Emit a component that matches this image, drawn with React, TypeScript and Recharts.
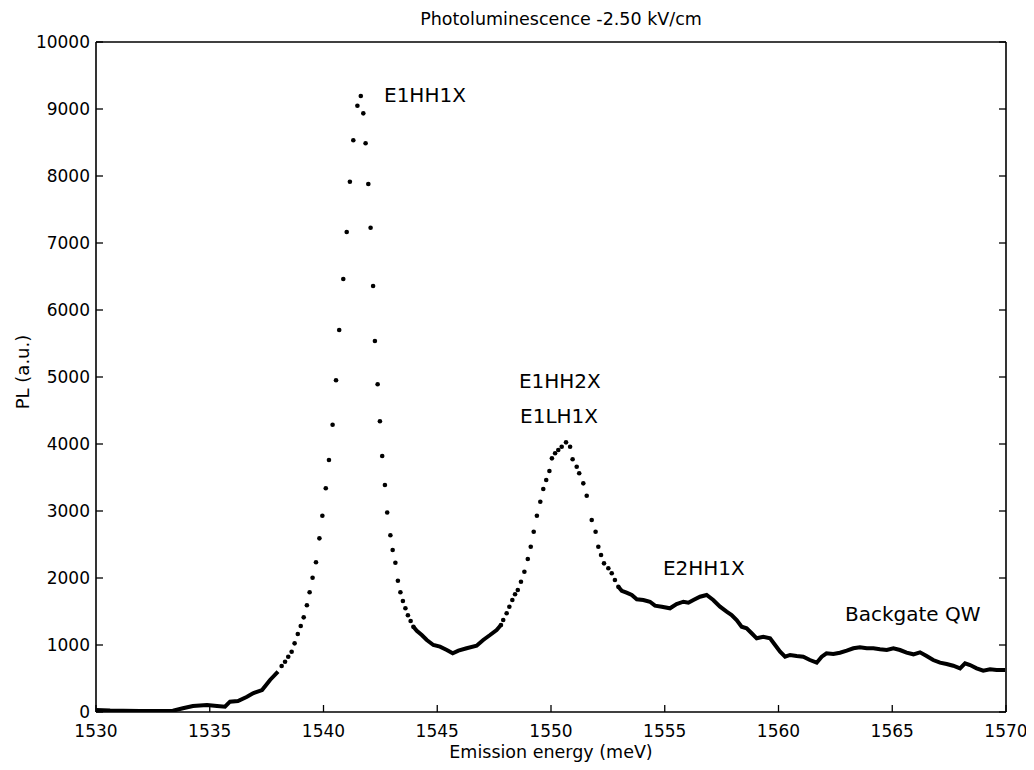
import React from 'react';
import { ComposedChart, Line, Scatter, XAxis, YAxis, ReferenceDot } from 'recharts';

const FONT = '"DejaVu Sans", Verdana, sans-serif';

const xTicks = [1530, 1535, 1540, 1545, 1550, 1555, 1560, 1565, 1570];
const yTicks = [0, 1000, 2000, 3000, 4000, 5000, 6000, 7000, 8000, 9000, 10000];

// densely sampled (continuous looking) stretches of the spectrum
const lowEnergy = [1530.0, 1530.62, 1531.19, 1531.93, 1532.68, 1533.38, 1533.82, 1534.26, 1534.88, 1535.32, 1535.67, 1535.89, 1536.24, 1536.64, 1536.9, 1537.3, 1537.65, 1538.0];
const lowPL = [30, 22, 19, 15, 15, 19, 55, 90, 104, 90, 79, 154, 164, 228, 279, 328, 478, 601];

const valleyEnergy = [1543.95, 1544.1, 1544.32, 1544.54, 1544.83, 1545.12, 1545.42, 1545.68, 1545.93, 1546.29, 1546.73, 1547.02, 1547.32, 1547.61, 1547.8];
const valleyPL = [1273, 1213, 1149, 1075, 1000, 975, 925, 876, 915, 951, 990, 1075, 1149, 1224, 1298];

const tailEnergy = [1552.96, 1553.11, 1553.32, 1553.55, 1553.77, 1554.06, 1554.35, 1554.57, 1554.87, 1555.23, 1555.52, 1555.82, 1556.04, 1556.26, 1556.55, 1556.84, 1557.13, 1557.43, 1557.72, 1557.94, 1558.16, 1558.38, 1558.6, 1558.82, 1559.04, 1559.33, 1559.63, 1559.85, 1560.07, 1560.29, 1560.51, 1560.8, 1561.09, 1561.38, 1561.68, 1561.9, 1562.11, 1562.41, 1562.7, 1563.0, 1563.29, 1563.58, 1563.88, 1564.17, 1564.46, 1564.76, 1565.05, 1565.34, 1565.63, 1565.93, 1566.22, 1566.51, 1566.8, 1567.1, 1567.39, 1567.68, 1567.98, 1568.2, 1568.42, 1568.71, 1569.0, 1569.3, 1569.59, 1569.96];
const tailPL = [1870, 1810, 1781, 1746, 1682, 1672, 1646, 1587, 1572, 1548, 1612, 1646, 1631, 1672, 1721, 1746, 1672, 1572, 1497, 1448, 1373, 1273, 1249, 1175, 1100, 1124, 1100, 1000, 900, 825, 851, 836, 825, 776, 736, 825, 876, 866, 885, 915, 951, 966, 951, 951, 936, 925, 951, 925, 885, 861, 891, 836, 776, 736, 716, 691, 652, 727, 701, 652, 616, 637, 627, 627];

// sparsely sampled points on the steep flanks (drawn as separate dots)
const dotEnergy = [
  1538.16, 1538.31, 1538.45, 1538.6, 1538.73, 1538.87, 1539.0, 1539.13, 1539.27, 1539.39, 1539.52, 1539.67, 1539.82, 1539.95,
  1540.1, 1540.24, 1540.4, 1540.55, 1540.69, 1540.87, 1541.02, 1541.16, 1541.31, 1541.49, 1541.64, 1541.75, 1541.85, 1541.97,
  1542.07, 1542.18, 1542.26, 1542.38, 1542.48, 1542.58, 1542.7, 1542.8, 1542.94, 1543.04, 1543.16, 1543.27, 1543.38, 1543.49,
  1543.6, 1543.71, 1543.83, 1543.95,
  1547.8, 1547.9, 1548.05, 1548.17, 1548.3, 1548.42, 1548.54, 1548.68, 1548.83, 1548.98, 1549.11, 1549.24, 1549.38, 1549.53,
  1549.66, 1549.79, 1549.93, 1550.04, 1550.18, 1550.32, 1550.47, 1550.66, 1550.84, 1550.95, 1551.13, 1551.24, 1551.42, 1551.57,
  1551.79, 1551.96, 1552.08, 1552.2, 1552.33, 1552.52, 1552.67, 1552.81, 1552.96,
];
const dotPL = [
  687, 751, 825, 900, 1025, 1164, 1284, 1413, 1593, 1787, 2004, 2234, 2592, 2930,
  3339, 3761, 4288, 4951, 5701, 6463, 7164, 7915, 8533, 9049, 9194, 8935, 8488, 7881,
  7228, 6358, 5537, 4891, 4339, 3821, 3388, 2978, 2637, 2418, 2228, 1960, 1787, 1657,
  1548, 1443, 1358, 1273,
  1298, 1373, 1473, 1572, 1672, 1757, 1821, 1945, 2094, 2284, 2467, 2691, 2930, 3139,
  3328, 3463, 3597, 3786, 3861, 3910, 3960, 4025, 3960, 3772, 3661, 3563, 3413, 3228,
  2866, 2691, 2467, 2343, 2219, 2145, 2070, 1970, 1870,
];

const annotationText = ['E1HH1X', 'E1HH2X', 'E1LH1X', 'E2HH1X', 'Backgate QW'];
const annotationEnergy = [1542.66, 1548.59, 1548.64, 1554.92, 1562.92];
const annotationPL = [9209, 4940, 4418, 2149, 1463];

const zip = (e: number[], p: number[]) => e.map((v, i) => ({ e: v, pl: p[i] }));
const lowData = zip(lowEnergy, lowPL);
const valleyData = zip(valleyEnergy, valleyPL);
const tailData = zip(tailEnergy, tailPL);
const dotData = zip(dotEnergy, dotPL);

const TICK = 7;

const BottomTick = (props: any) => {
  const { x, y, payload } = props;
  return (
    <g>
      <line x1={x} y1={y} x2={x} y2={y - TICK} stroke="#000" strokeWidth={1.3} />
      <text x={x} y={y + 25} textAnchor="middle" fontSize={17} fontFamily={FONT} fill="#000">
        {payload.value}
      </text>
    </g>
  );
};
const TopTick = (props: any) => {
  const { x, y } = props;
  return <line x1={x} y1={y} x2={x} y2={y + TICK} stroke="#000" strokeWidth={1.3} />;
};
const LeftTick = (props: any) => {
  const { x, y, payload } = props;
  return (
    <g>
      <line x1={x} y1={y} x2={x + TICK} y2={y} stroke="#000" strokeWidth={1.3} />
      <text x={x - 6} y={y} textAnchor="end" dominantBaseline="central" fontSize={17} fontFamily={FONT} fill="#000">
        {payload.value}
      </text>
    </g>
  );
};
const RightTick = (props: any) => {
  const { x, y } = props;
  return <line x1={x} y1={y} x2={x - TICK} y2={y} stroke="#000" strokeWidth={1.3} />;
};

const Dot = (p: any) => <circle cx={p.cx} cy={p.cy} r={2.3} fill="#000" />;

const axisLine = { stroke: '#000', strokeWidth: 1.6 };

export default function App() {
  return (
    <div style={{ position: 'relative', width: 1026, height: 762, background: '#fff', fontFamily: FONT }}>
      <ComposedChart width={1026} height={762} margin={{ top: 33, right: 27, bottom: 28, left: 0 }}>
        <XAxis
          xAxisId={0}
          dataKey="e"
          type="number"
          domain={[1530, 1570]}
          ticks={xTicks}
          interval={0}
          allowDataOverflow
          height={30}
          tickSize={0}
          tickMargin={0}
          tickLine={false}
          axisLine={axisLine}
          tick={<BottomTick />}
        />
        <XAxis
          xAxisId="top"
          orientation="top"
          type="number"
          domain={[1530, 1570]}
          ticks={xTicks}
          interval={0}
          allowDataOverflow
          height={1}
          tickSize={0}
          tickMargin={0}
          tickLine={false}
          axisLine={axisLine}
          tick={<TopTick />}
        />
        <YAxis
          yAxisId={0}
          type="number"
          domain={[0, 10000]}
          ticks={yTicks}
          interval={0}
          allowDataOverflow
          width={88}
          tickSize={0}
          tickMargin={0}
          tickLine={false}
          axisLine={axisLine}
          tick={<LeftTick />}
        />
        <YAxis
          yAxisId="right"
          orientation="right"
          type="number"
          domain={[0, 10000]}
          ticks={yTicks}
          interval={0}
          allowDataOverflow
          width={1}
          tickSize={0}
          tickMargin={0}
          tickLine={false}
          axisLine={axisLine}
          tick={<RightTick />}
        />
        <Line data={lowData} dataKey="pl" type="linear" stroke="#000" strokeWidth={4} dot={false} isAnimationActive={false} />
        <Line data={valleyData} dataKey="pl" type="linear" stroke="#000" strokeWidth={4} dot={false} isAnimationActive={false} />
        <Line data={tailData} dataKey="pl" type="linear" stroke="#000" strokeWidth={4} dot={false} isAnimationActive={false} />
        <Scatter data={dotData} dataKey="pl" fill="#000" shape={<Dot />} isAnimationActive={false} />
        {annotationText.map((t, i) => (
          <ReferenceDot
            key={t}
            x={annotationEnergy[i]}
            y={annotationPL[i]}
            r={0}
            fill="none"
            stroke="none"
            label={{ value: t, position: 'right', offset: 0, fill: '#000', fontSize: 20, fontFamily: FONT }}
          />
        ))}
      </ComposedChart>
      <div style={{ position: 'absolute', left: 553, top: 11, transform: 'translate(-50%, -50%)', fontSize: 17.5, whiteSpace: 'nowrap', color: '#000' }}>
        Photoluminescence -2.50 kV/cm
      </div>
      <div style={{ position: 'absolute', left: 543, top: 744, transform: 'translate(-50%, -50%)', fontSize: 17.5, whiteSpace: 'nowrap', color: '#000' }}>
        Emission energy (meV)
      </div>
      <div style={{ position: 'absolute', left: 14, top: 364, transform: 'translate(-50%, -50%) rotate(-90deg)', fontSize: 18, whiteSpace: 'nowrap', color: '#000' }}>
        PL (a.u.)
      </div>
    </div>
  );
}
